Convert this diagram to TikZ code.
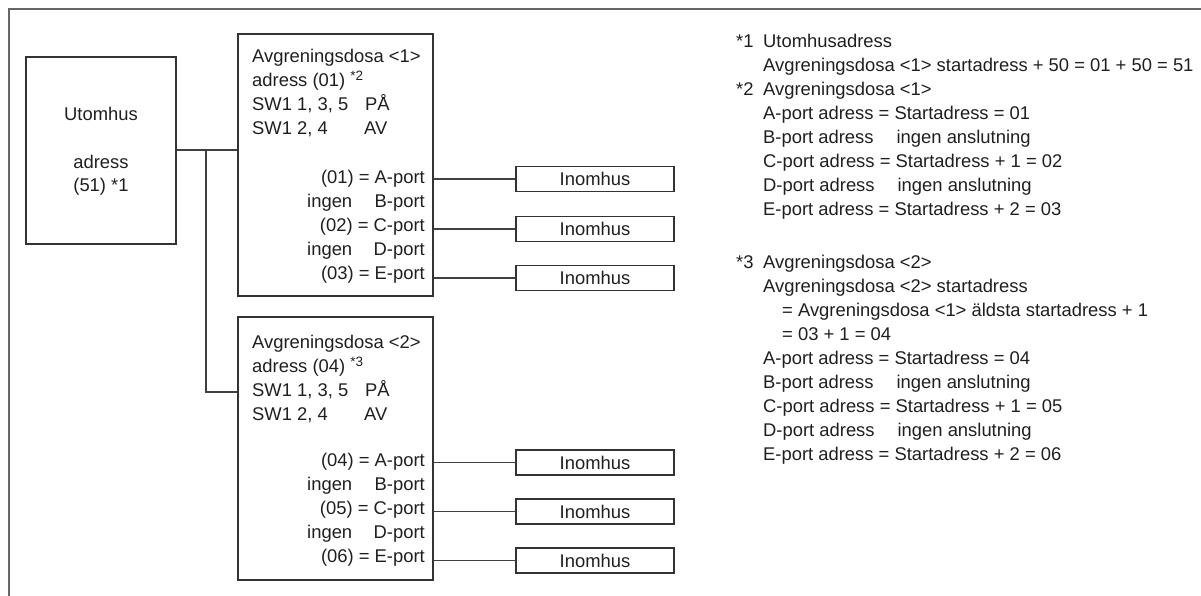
\documentclass[tikz,border=0pt]{standalone}
\usepackage{fontspec}
\setmainfont{Liberation Sans}
\begin{document}
\begin{tikzpicture}[x=1pt,y=-1pt,
  every node/.style={font=\fontsize{18.4}{24}\selectfont, text=black!88, inner sep=0pt},
  boxstyle/.style={draw=black!80, line width=1.2pt, rectangle, minimum width=#1},
  conn/.style={draw=black!75, line width=1.1pt},
  frameline/.style={draw=black!60, line width=1.6pt},
  txt/.style={anchor=base west},
  txte/.style={anchor=base east}]
\useasboundingbox (0,0) rectangle (1201,596);
% frame
\coordinate (f1) at (9,596);
\coordinate (f2) at (9,9);
\coordinate (f3) at (1201,9);
\draw[frameline] (f1) -- (f2) -- (f3);

% outdoor unit
\node[boxstyle=150pt, minimum height=187pt] (ut) at (101,150.5) {};
\node[anchor=base] (ut1) at (101,120.5) {Utomhus};
\node[anchor=base] (ut2) at (101,168.5) {adress};
\node[anchor=base] (ut3) at (101,191.5) {(51) *1};

% branch box 1
\node[boxstyle=195pt, minimum height=262pt] (b1) at (335.5,165) {};
\node[txt] (b1a) at (252,63) {Avgreningsdosa <1>};
\node[txt] (b1b) at (252,87) {adress (01) \raisebox{6.5pt}{\fontsize{13.5}{13.5}\selectfont *2}};
\node[txt] (b1c) at (252,111) {SW1 1, 3, 5};
\node[txt] (b1c2) at (365,111) {PÅ};
\node[txt] (b1d) at (252,135) {SW1 2, 4};
\node[txt] (b1d2) at (364,135) {AV};
\node[txte] (b1p1) at (425,183.5) {(01) = A-port};
\node[txt] (b1p2i) at (307,207.5) {ingen};
\node[txte] (b1p2) at (425,207.5) {B-port};
\node[txte] (b1p3) at (425,231.5) {(02) = C-port};
\node[txt] (b1p4i) at (307,255.5) {ingen};
\node[txte] (b1p4) at (425,255.5) {D-port};
\node[txte] (b1p5) at (425,279.5) {(03) = E-port};

% branch box 2
\node[boxstyle=195pt, minimum height=263pt] (b2) at (335.5,448.5) {};
\node[txt] (b2a) at (252,348.5) {Avgreningsdosa <2>};
\node[txt] (b2b) at (252,372.5) {adress (04) \raisebox{6.5pt}{\fontsize{13.5}{13.5}\selectfont *3}};
\node[txt] (b2c) at (252,396.5) {SW1 1, 3, 5};
\node[txt] (b2c2) at (365,396.5) {PÅ};
\node[txt] (b2d) at (252,420.5) {SW1 2, 4};
\node[txt] (b2d2) at (364,420.5) {AV};
\node[txte] (b2p1) at (425,466.5) {(04) = A-port};
\node[txt] (b2p2i) at (307,490.5) {ingen};
\node[txte] (b2p2) at (425,490.5) {B-port};
\node[txte] (b2p3) at (425,514.5) {(05) = C-port};
\node[txt] (b2p4i) at (307,538.5) {ingen};
\node[txte] (b2p4) at (425,538.5) {D-port};
\node[txte] (b2p5) at (425,562.5) {(06) = E-port};

% indoor units
\node[boxstyle=158pt, minimum height=25pt] (i1) at (595,179) {Inomhus};
\node[boxstyle=158pt, minimum height=25pt] (i2) at (595,229) {Inomhus};
\node[boxstyle=158pt, minimum height=25pt] (i3) at (595,278) {Inomhus};
\node[boxstyle=158pt, minimum height=25pt] (i4) at (595,462.5) {Inomhus};
\node[boxstyle=158pt, minimum height=25pt] (i5) at (595,511.5) {Inomhus};
\node[boxstyle=158pt, minimum height=25pt] (i6) at (595,560.5) {Inomhus};

% connectors
\coordinate (j1) at (206,150);
\coordinate (j2) at (206,392);
\draw[conn] (j1 -| ut.east) -- (j1 -| b1.west);
\draw[conn] (j1) -- (j2) -- (j2 -| b2.west);
\foreach \n/\b in {i1/b1,i2/b1,i3/b1,i4/b2,i5/b2,i6/b2}{
  \draw[conn] (\n.west) -- (\n.west -| \b.east);
}

% notes
\node[txt] (n1) at (736,47.5) {*1};
\node[txt] (n1a) at (763,47.5) {Utomhusadress};
\node[txt] (n1b) at (763,71.5) {Avgreningsdosa <1> startadress + 50 = 01 + 50 = 51};
\node[txt] (n2) at (736,95.5) {*2};
\node[txt] (n2a) at (763,95.5) {Avgreningsdosa <1>};
\node[txt] (n2b) at (763,119.5) {A-port adress = Startadress = 01};
\node[txt] (n2c) at (763,143.5) {B-port adress\hspace{23pt}ingen anslutning};
\node[txt] (n2d) at (763,167.5) {C-port adress = Startadress + 1 = 02};
\node[txt] (n2e) at (763,191.5) {D-port adress\hspace{23pt}ingen anslutning};
\node[txt] (n2f) at (763,215.5) {E-port adress = Startadress + 2 = 03};

\node[txt] (n3) at (736,268.5) {*3};
\node[txt] (n3a) at (763,268.5) {Avgreningsdosa <2>};
\node[txt] (n3b) at (763,292.5) {Avgreningsdosa <2> startadress};
\node[txt] (n3c) at (782,316.5) {= Avgreningsdosa <1> äldsta startadress + 1};
\node[txt] (n3d) at (782,340.5) {= 03 + 1 = 04};
\node[txt] (n3e) at (763,364.5) {A-port adress = Startadress = 04};
\node[txt] (n3f) at (763,388.5) {B-port adress\hspace{23pt}ingen anslutning};
\node[txt] (n3g) at (763,412.5) {C-port adress = Startadress + 1 = 05};
\node[txt] (n3h) at (763,436.5) {D-port adress\hspace{23pt}ingen anslutning};
\node[txt] (n3i) at (763,460.5) {E-port adress = Startadress + 2 = 06};
\end{tikzpicture}
\end{document}
